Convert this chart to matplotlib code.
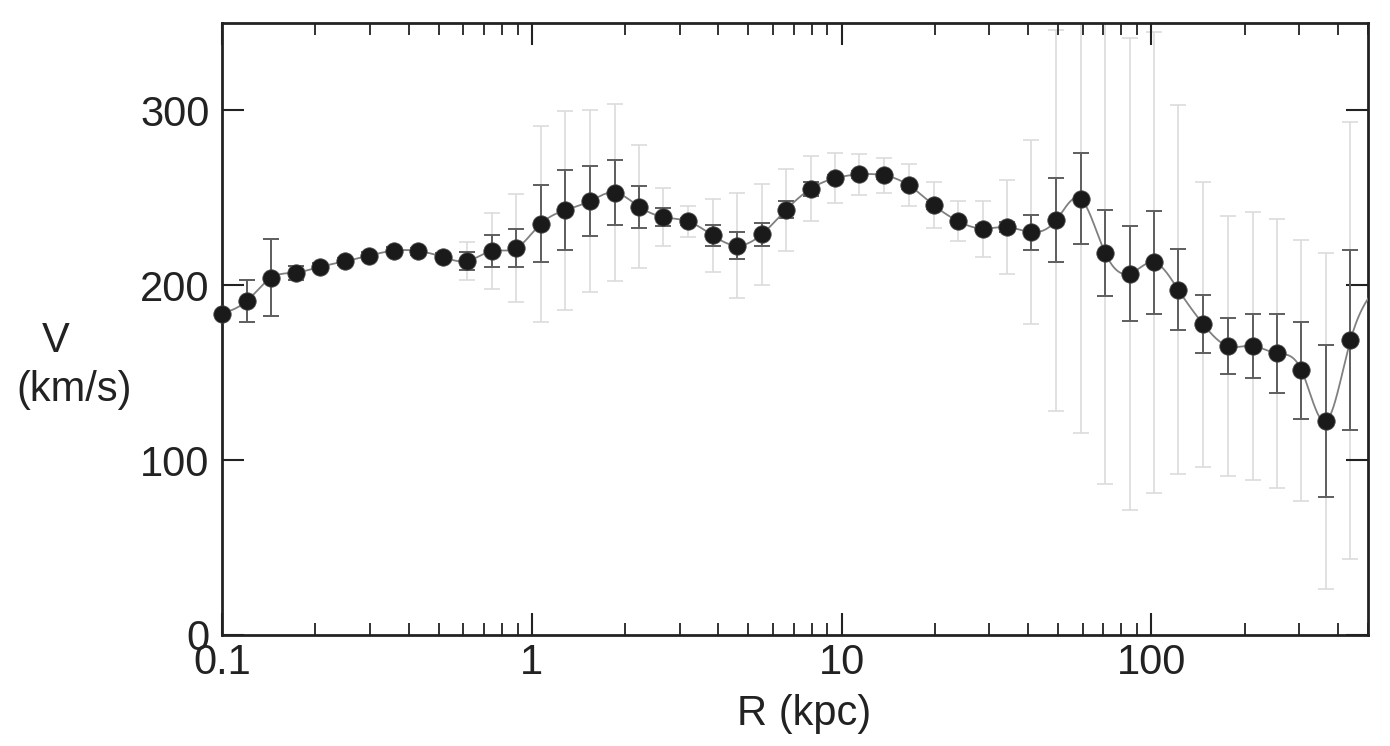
import numpy as np
import matplotlib
matplotlib.use("Agg")
import matplotlib.pyplot as plt
from matplotlib.ticker import FixedLocator, NullFormatter

plt.rcParams['font.family'] = ['Liberation Sans', 'DejaVu Sans']

# ---- data ----
R_kpc = [0.1, 0.12, 0.144, 0.173, 0.207, 0.249, 0.299, 0.358, 0.430, 0.516,
         0.619, 0.743, 0.892, 1.07, 1.28, 1.54, 1.85, 2.22, 2.66, 3.19,
         3.83, 4.60, 5.52, 6.62, 7.95, 9.54, 11.4, 13.7, 16.5, 19.8,
         23.7, 28.5, 34.2, 41.0, 49.2, 59.1, 70.9, 85.1, 102, 122,
         147, 176, 212, 254, 305, 366, 439]
V_kms = [183.8, 190.9, 204.2, 207.3, 210.5, 213.7, 217.0, 219.8, 219.6, 216.2,
         213.9, 219.6, 221.3, 235.2, 242.9, 248.2, 253.0, 245.0, 239.0, 236.6,
         228.6, 222.7, 229.1, 243.2, 255.2, 261.3, 263.4, 262.9, 257.1, 245.9,
         236.8, 232.4, 233.3, 230.4, 237.1, 249.4, 218.5, 206.7, 213.1, 197.5,
         177.7, 165.3, 165.3, 161.1, 151.4, 122.3, 168.6]
err_small = [0, 12, 22, 4, 2, 2, 2, 2, 2, 2,
             5, 9, 11, 22, 23, 20, 18.5, 12, 5.3, 2,
             6, 7.5, 6.5, 5, 4, 2, 2, 2, 2, 2,
             2, 2, 3, 10, 24, 26, 24.5, 27, 29.3, 23.3,
             16.6, 16, 18.5, 22.7, 27.6, 43.5, 51.4]
err_large = [0, 12, 22, 4, 2, 2, 2, 2, 2, 2,
             11, 22, 31, 56, 57, 52, 50.5, 35, 16.5, 9,
             21, 30, 29, 23.5, 18.5, 14.5, 11.5, 10, 12, 13,
             11.5, 16, 27, 52.5, 109, 134, 132, 135, 132, 105.5,
             81.5, 74.5, 76.7, 77, 74.5, 96, 125]
# the fitted curve continues past the right edge of the axes
curve_tail_R = [527]
curve_tail_V = [198]

x_ticks = [0.1, 1, 10, 100]
x_ticklabels = ["0.1", "1", "10", "100"]
y_ticks = [0, 100, 200, 300]
y_ticklabels = ["0", "100", "200", "300"]


def natural_spline(x, y, xs):
    x = np.asarray(x, float); y = np.asarray(y, float)
    n = len(x)
    h = np.diff(x)
    A = np.zeros((n, n)); b = np.zeros(n)
    A[0, 0] = 1; A[-1, -1] = 1
    for i in range(1, n - 1):
        A[i, i - 1] = h[i - 1]
        A[i, i] = 2 * (h[i - 1] + h[i])
        A[i, i + 1] = h[i]
        b[i] = 6 * ((y[i + 1] - y[i]) / h[i] - (y[i] - y[i - 1]) / h[i - 1])
    M = np.linalg.solve(A, b)
    idx = np.clip(np.searchsorted(x, xs) - 1, 0, n - 2)
    x0 = x[idx]; x1 = x[idx + 1]; hh = x1 - x0
    t0 = x1 - xs; t1 = xs - x0
    return (M[idx] * t0**3 / (6 * hh) + M[idx + 1] * t1**3 / (6 * hh)
            + (y[idx] / hh - M[idx] * hh / 6) * t0
            + (y[idx + 1] / hh - M[idx + 1] * hh / 6) * t1)


fig = plt.figure(figsize=(13.9, 7.46), dpi=100)
ax = fig.add_axes([222 / 1390, (746 - 635) / 746, (1368 - 222) / 1390, (635 - 23) / 746])

cx = np.log10(R_kpc + curve_tail_R)
cy = V_kms + curve_tail_V
xs = np.linspace(cx[0], cx[-1], 1500)
ys = natural_spline(cx, cy, xs)

ax.errorbar(R_kpc, V_kms, yerr=err_large, fmt='none', ecolor='#dcdcdc',
            elinewidth=1.2, capsize=6, capthick=1.2, zorder=1)
ax.errorbar(R_kpc, V_kms, yerr=err_small, fmt='none', ecolor='#5e5e5e',
            elinewidth=1.4, capsize=6, capthick=1.4, zorder=2)
ax.plot(10 ** xs, ys, color='#808080', lw=1.3, zorder=3)
ax.plot(R_kpc, V_kms, 'o', color='#1a1a1a', ms=12.5, mec='#444444', mew=0.6,
        zorder=4, clip_on=False)

ax.set_xscale('log')
ax.set_xlim(0.1, 500)
ax.set_ylim(0, 350)

ax.xaxis.set_major_locator(FixedLocator(x_ticks))
ax.set_xticklabels(x_ticklabels)
ax.xaxis.set_minor_locator(FixedLocator([m * 10.0 ** e for e in range(-1, 3) for m in range(2, 10)]))
ax.xaxis.set_minor_formatter(NullFormatter())
ax.yaxis.set_major_locator(FixedLocator(y_ticks))
ax.set_yticklabels(y_ticklabels)

ax.tick_params(which='major', direction='in', length=16, width=1.5, top=True, right=True,
               labelsize=30, color='#222222', labelcolor='#222222')
ax.tick_params(axis='x', which='major', pad=6)
ax.tick_params(axis='y', which='major', pad=9)
ax.tick_params(which='minor', direction='in', length=8.5, width=1.3, top=True, right=True,
               color='#222222')
for s in ax.spines.values():
    s.set_linewidth(2)
    s.set_color('#222222')

ax.set_xlabel('R (kpc)', fontsize=30, color='#222222')
ax.xaxis.set_label_coords((804 - 222) / (1368 - 222), -0.097)
fig.text(56 / 1390, 1 - 341 / 746, 'V', fontsize=30, ha='center', va='center', color='#222222')
fig.text(74.5 / 1390, 1 - 390 / 746, '(km/s)', fontsize=30, ha='center', va='center', color='#222222')

fig.savefig('out.png', dpi=100)
